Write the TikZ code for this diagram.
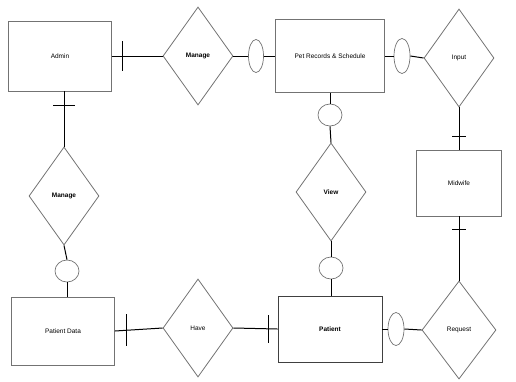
\documentclass[tikz,border=0pt]{standalone}
\usepackage{fontspec}
\setmainfont{Liberation Sans}
\usetikzlibrary{shapes.geometric}
\begin{document}
\begin{tikzpicture}[x=1pt,y=-1pt,
  ent/.style={draw=black!55,line width=0.8pt,rectangle,inner sep=0pt,font=\fontsize{6.5}{8}\selectfont},
  rel/.style={draw=black!55,line width=0.8pt,diamond,inner sep=0pt,minimum width=70pt,minimum height=98pt,font=\fontsize{6.5}{8}\selectfont},
  att/.style={draw=black!55,line width=0.7pt,ellipse,inner sep=0pt},
  conn/.style={draw=black,line width=1pt},
  tickmark/.style={draw=black,line width=0.9pt}]
\useasboundingbox (0,0) rectangle (516,381);
% entities
\node[ent,minimum width=103pt,minimum height=70pt] (admin) at (60,56) {Admin};
\node[ent,minimum width=109pt,minimum height=73pt] (sched) at (330,56) {Pet Records \& Schedule};
\node[ent,minimum width=85pt,minimum height=66pt] (midwife) at (459,183) {Midwife};
\node[ent,minimum width=104pt,minimum height=66pt,draw=black!75] (patient) at (330,329) {\bfseries Patient};
\node[ent,minimum width=103pt,minimum height=68pt] (pdata) at (63,331) {Patient Data};
% relationships
\node[rel] (manage1) at (198,56) {\bfseries Manage};
\node[rel] (input) at (459,58) {Input};
\node[rel] (view) at (331,192) {\bfseries View};
\node[rel] (manage2) at (64,196) {\bfseries Manage};
\node[rel] (have) at (198,328) {Have};
\node[rel,minimum width=74pt] (req) at (459,330) {Request};
% small ellipses
\node[att,minimum width=15pt,minimum height=33pt] (e1) at (256,56) {};
\node[att,minimum width=16pt,minimum height=35pt] (e2) at (402,56) {};
\node[att,minimum width=24pt,minimum height=22pt] (e3) at (330,115) {};
\node[att,minimum width=24pt,minimum height=22pt] (e4) at (331,268) {};
\node[att,minimum width=24pt,minimum height=22pt] (e5) at (67,271) {};
\node[att,minimum width=16pt,minimum height=33pt] (e6) at (396,329) {};
% connectors
\draw[conn] (admin.east) -- (manage1.west);
\draw[conn] (manage1.east) -- (e1.west);
\draw[conn] (e1.east) -- (sched.west);
\draw[conn] (sched.east) -- (e2.west);
\draw[conn] (e2.east) -- (input.west);
\draw[conn] (input.south) -- (midwife.north);
\draw[conn] (midwife.south) -- (req.north);
\draw[conn] (req.west) -- (e6.east);
\draw[conn] (e6.west) -- (patient.east);
\draw[conn] (patient.west) -- (have.east);
\draw[conn] (have.west) -- (pdata.east);
\draw[conn] (pdata.north -| e5.south) -- (e5.south);
\draw[conn] (e5.north) -- (manage2.south);
\draw[conn] (manage2.north) -- (admin.south -| manage2.north);
\draw[conn] (sched.south -| e3.north) -- (e3.north);
\draw[conn] (e3.south) -- (view.north);
\draw[conn] (view.south) -- (e4.north);
\draw[conn] (e4.south) -- (patient.north -| e4.south);
% ticks
\coordinate (t1) at (122,56);
\draw[tickmark] (t1) ++(0,-15) -- ++(0,30);
\coordinate (t2) at (64,105);
\draw[tickmark] (t2) ++(-11,0) -- ++(22,0);
\coordinate (t3) at (459,136);
\draw[tickmark] (t3) ++(-7,0) -- ++(14,0);
\coordinate (t4) at (459,229);
\draw[tickmark] (t4) ++(-7,0) -- ++(14,0);
\coordinate (t5) at (126,330);
\draw[tickmark] (t5) ++(0,-16) -- ++(0,32);
\coordinate (t6) at (268,329);
\draw[tickmark] (t6) ++(0,-14) -- ++(0,28);
\end{tikzpicture}
\end{document}
